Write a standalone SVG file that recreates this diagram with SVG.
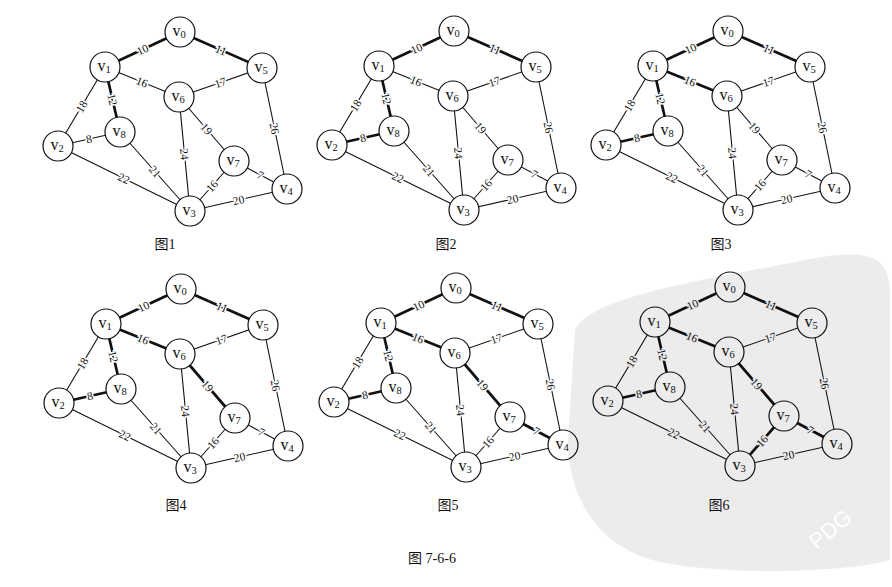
<svg xmlns="http://www.w3.org/2000/svg" width="892" height="587" viewBox="0 0 892 587">
<style>
.e{stroke:#111;stroke-width:1.1;fill:none}
.b{stroke-width:2.7}
.n circle{fill:#fff;stroke:#111;stroke-width:1.2}
.nl{font-family:"Liberation Serif",serif;font-size:16px;text-anchor:middle;fill:#111}
.sub{font-size:10.5px}
.w{font-family:"Liberation Serif",serif;font-size:11.5px;text-anchor:middle;dominant-baseline:central;paint-order:stroke;stroke:#fff;stroke-width:3;fill:#111}
.cap{font-family:"Liberation Serif","Noto Sans CJK SC",serif;font-size:14px;text-anchor:middle;fill:#111}
</style>
<rect width="892" height="587" fill="#fff"/>

<!-- Figure 1 -->
<g id="fig1" transform="translate(0,1)">
<g id="fig1-connectors">
<line class="e b" x1="180" y1="31" x2="105" y2="66"/>
<line class="e b" x1="180" y1="31" x2="262" y2="67"/>
<line class="e" x1="105" y1="66" x2="179" y2="96"/>
<line class="e" x1="262" y1="67" x2="179" y2="96"/>
<line class="e" x1="105" y1="66" x2="58" y2="145"/>
<line class="e b" x1="105" y1="66" x2="120" y2="131"/>
<line class="e" x1="58" y1="145" x2="120" y2="131"/>
<line class="e" x1="58" y1="145" x2="190" y2="210"/>
<line class="e" x1="120" y1="131" x2="190" y2="210"/>
<line class="e" x1="179" y1="96" x2="190" y2="210"/>
<line class="e" x1="179" y1="96" x2="234" y2="160"/>
<line class="e" x1="262" y1="67" x2="287" y2="188"/>
<line class="e" x1="234" y1="160" x2="287" y2="188"/>
<line class="e" x1="234" y1="160" x2="190" y2="210"/>
<line class="e" x1="190" y1="210" x2="287" y2="188"/>
<text class="w" transform="translate(142.5,48.5) rotate(-25)">10</text>
<text class="w" transform="translate(221,49) rotate(23.7)">11</text>
<text class="w" transform="translate(142,81) rotate(22)">16</text>
<text class="w" transform="translate(220.5,81.5) rotate(-19)">17</text>
<text class="w" transform="translate(81.5,105.5) rotate(-59)">18</text>
<text class="w" transform="translate(112.5,98.5) rotate(77)">12</text>
<text class="w" transform="translate(89,138) rotate(-12.7)">8</text>
<text class="w" transform="translate(124,177.5) rotate(26)">22</text>
<text class="w" transform="translate(155,170.5) rotate(48.5)">21</text>
<text class="w" transform="translate(184.5,153) rotate(84.5)">24</text>
<text class="w" transform="translate(206.5,128) rotate(49)">19</text>
<text class="w" transform="translate(274.5,127.5) rotate(78)">26</text>
<text class="w" transform="translate(260.5,174) rotate(28)">7</text>
<text class="w" transform="translate(212,185) rotate(-48.7)">16</text>
<text class="w" transform="translate(238.5,199) rotate(-12.8)">20</text>
</g>
<g id="fig1-v0" class="n"><circle cx="180" cy="31" r="15"/><text class="nl" x="179" y="35">v<tspan class="sub" dy="2">0</tspan></text></g>
<g id="fig1-v1" class="n"><circle cx="105" cy="66" r="15"/><text class="nl" x="104" y="70">v<tspan class="sub" dy="2">1</tspan></text></g>
<g id="fig1-v2" class="n"><circle cx="58" cy="145" r="15"/><text class="nl" x="57" y="149">v<tspan class="sub" dy="2">2</tspan></text></g>
<g id="fig1-v3" class="n"><circle cx="190" cy="210" r="15"/><text class="nl" x="189" y="214">v<tspan class="sub" dy="2">3</tspan></text></g>
<g id="fig1-v4" class="n"><circle cx="287" cy="188" r="15"/><text class="nl" x="286" y="192">v<tspan class="sub" dy="2">4</tspan></text></g>
<g id="fig1-v5" class="n"><circle cx="262" cy="67" r="15"/><text class="nl" x="261" y="71">v<tspan class="sub" dy="2">5</tspan></text></g>
<g id="fig1-v6" class="n"><circle cx="179" cy="96" r="15"/><text class="nl" x="178" y="100">v<tspan class="sub" dy="2">6</tspan></text></g>
<g id="fig1-v7" class="n"><circle cx="234" cy="160" r="15"/><text class="nl" x="233" y="164">v<tspan class="sub" dy="2">7</tspan></text></g>
<g id="fig1-v8" class="n"><circle cx="120" cy="131" r="15"/><text class="nl" x="119" y="135">v<tspan class="sub" dy="2">8</tspan></text></g>
</g>

<!-- Figure 2 -->
<g id="fig2" transform="translate(274,0)">
<g id="fig2-connectors">
<line class="e b" x1="180" y1="31" x2="105" y2="66"/>
<line class="e b" x1="180" y1="31" x2="262" y2="67"/>
<line class="e" x1="105" y1="66" x2="179" y2="96"/>
<line class="e" x1="262" y1="67" x2="179" y2="96"/>
<line class="e" x1="105" y1="66" x2="58" y2="145"/>
<line class="e b" x1="105" y1="66" x2="120" y2="131"/>
<line class="e b" x1="58" y1="145" x2="120" y2="131"/>
<line class="e" x1="58" y1="145" x2="190" y2="210"/>
<line class="e" x1="120" y1="131" x2="190" y2="210"/>
<line class="e" x1="179" y1="96" x2="190" y2="210"/>
<line class="e" x1="179" y1="96" x2="234" y2="160"/>
<line class="e" x1="262" y1="67" x2="287" y2="188"/>
<line class="e" x1="234" y1="160" x2="287" y2="188"/>
<line class="e" x1="234" y1="160" x2="190" y2="210"/>
<line class="e" x1="190" y1="210" x2="287" y2="188"/>
<text class="w" transform="translate(142.5,48.5) rotate(-25)">10</text>
<text class="w" transform="translate(221,49) rotate(23.7)">11</text>
<text class="w" transform="translate(142,81) rotate(22)">16</text>
<text class="w" transform="translate(220.5,81.5) rotate(-19)">17</text>
<text class="w" transform="translate(81.5,105.5) rotate(-59)">18</text>
<text class="w" transform="translate(112.5,98.5) rotate(77)">12</text>
<text class="w" transform="translate(89,138) rotate(-12.7)">8</text>
<text class="w" transform="translate(124,177.5) rotate(26)">22</text>
<text class="w" transform="translate(155,170.5) rotate(48.5)">21</text>
<text class="w" transform="translate(184.5,153) rotate(84.5)">24</text>
<text class="w" transform="translate(206.5,128) rotate(49)">19</text>
<text class="w" transform="translate(274.5,127.5) rotate(78)">26</text>
<text class="w" transform="translate(260.5,174) rotate(28)">7</text>
<text class="w" transform="translate(212,185) rotate(-48.7)">16</text>
<text class="w" transform="translate(238.5,199) rotate(-12.8)">20</text>
</g>
<g id="fig2-v0" class="n"><circle cx="180" cy="31" r="15"/><text class="nl" x="179" y="35">v<tspan class="sub" dy="2">0</tspan></text></g>
<g id="fig2-v1" class="n"><circle cx="105" cy="66" r="15"/><text class="nl" x="104" y="70">v<tspan class="sub" dy="2">1</tspan></text></g>
<g id="fig2-v2" class="n"><circle cx="58" cy="145" r="15"/><text class="nl" x="57" y="149">v<tspan class="sub" dy="2">2</tspan></text></g>
<g id="fig2-v3" class="n"><circle cx="190" cy="210" r="15"/><text class="nl" x="189" y="214">v<tspan class="sub" dy="2">3</tspan></text></g>
<g id="fig2-v4" class="n"><circle cx="287" cy="188" r="15"/><text class="nl" x="286" y="192">v<tspan class="sub" dy="2">4</tspan></text></g>
<g id="fig2-v5" class="n"><circle cx="262" cy="67" r="15"/><text class="nl" x="261" y="71">v<tspan class="sub" dy="2">5</tspan></text></g>
<g id="fig2-v6" class="n"><circle cx="179" cy="96" r="15"/><text class="nl" x="178" y="100">v<tspan class="sub" dy="2">6</tspan></text></g>
<g id="fig2-v7" class="n"><circle cx="234" cy="160" r="15"/><text class="nl" x="233" y="164">v<tspan class="sub" dy="2">7</tspan></text></g>
<g id="fig2-v8" class="n"><circle cx="120" cy="131" r="15"/><text class="nl" x="119" y="135">v<tspan class="sub" dy="2">8</tspan></text></g>
</g>

<!-- Figure 3 -->
<g id="fig3" transform="translate(548,0)">
<g id="fig3-connectors">
<line class="e b" x1="180" y1="31" x2="105" y2="66"/>
<line class="e b" x1="180" y1="31" x2="262" y2="67"/>
<line class="e b" x1="105" y1="66" x2="179" y2="96"/>
<line class="e" x1="262" y1="67" x2="179" y2="96"/>
<line class="e" x1="105" y1="66" x2="58" y2="145"/>
<line class="e b" x1="105" y1="66" x2="120" y2="131"/>
<line class="e b" x1="58" y1="145" x2="120" y2="131"/>
<line class="e" x1="58" y1="145" x2="190" y2="210"/>
<line class="e" x1="120" y1="131" x2="190" y2="210"/>
<line class="e" x1="179" y1="96" x2="190" y2="210"/>
<line class="e" x1="179" y1="96" x2="234" y2="160"/>
<line class="e" x1="262" y1="67" x2="287" y2="188"/>
<line class="e" x1="234" y1="160" x2="287" y2="188"/>
<line class="e" x1="234" y1="160" x2="190" y2="210"/>
<line class="e" x1="190" y1="210" x2="287" y2="188"/>
<text class="w" transform="translate(142.5,48.5) rotate(-25)">10</text>
<text class="w" transform="translate(221,49) rotate(23.7)">11</text>
<text class="w" transform="translate(142,81) rotate(22)">16</text>
<text class="w" transform="translate(220.5,81.5) rotate(-19)">17</text>
<text class="w" transform="translate(81.5,105.5) rotate(-59)">18</text>
<text class="w" transform="translate(112.5,98.5) rotate(77)">12</text>
<text class="w" transform="translate(89,138) rotate(-12.7)">8</text>
<text class="w" transform="translate(124,177.5) rotate(26)">22</text>
<text class="w" transform="translate(155,170.5) rotate(48.5)">21</text>
<text class="w" transform="translate(184.5,153) rotate(84.5)">24</text>
<text class="w" transform="translate(206.5,128) rotate(49)">19</text>
<text class="w" transform="translate(274.5,127.5) rotate(78)">26</text>
<text class="w" transform="translate(260.5,174) rotate(28)">7</text>
<text class="w" transform="translate(212,185) rotate(-48.7)">16</text>
<text class="w" transform="translate(238.5,199) rotate(-12.8)">20</text>
</g>
<g id="fig3-v0" class="n"><circle cx="180" cy="31" r="15"/><text class="nl" x="179" y="35">v<tspan class="sub" dy="2">0</tspan></text></g>
<g id="fig3-v1" class="n"><circle cx="105" cy="66" r="15"/><text class="nl" x="104" y="70">v<tspan class="sub" dy="2">1</tspan></text></g>
<g id="fig3-v2" class="n"><circle cx="58" cy="145" r="15"/><text class="nl" x="57" y="149">v<tspan class="sub" dy="2">2</tspan></text></g>
<g id="fig3-v3" class="n"><circle cx="190" cy="210" r="15"/><text class="nl" x="189" y="214">v<tspan class="sub" dy="2">3</tspan></text></g>
<g id="fig3-v4" class="n"><circle cx="287" cy="188" r="15"/><text class="nl" x="286" y="192">v<tspan class="sub" dy="2">4</tspan></text></g>
<g id="fig3-v5" class="n"><circle cx="262" cy="67" r="15"/><text class="nl" x="261" y="71">v<tspan class="sub" dy="2">5</tspan></text></g>
<g id="fig3-v6" class="n"><circle cx="179" cy="96" r="15"/><text class="nl" x="178" y="100">v<tspan class="sub" dy="2">6</tspan></text></g>
<g id="fig3-v7" class="n"><circle cx="234" cy="160" r="15"/><text class="nl" x="233" y="164">v<tspan class="sub" dy="2">7</tspan></text></g>
<g id="fig3-v8" class="n"><circle cx="120" cy="131" r="15"/><text class="nl" x="119" y="135">v<tspan class="sub" dy="2">8</tspan></text></g>
</g>

<!-- Figure 4 -->
<g id="fig4" transform="translate(1,258)">
<g id="fig4-connectors">
<line class="e b" x1="180" y1="31" x2="105" y2="66"/>
<line class="e b" x1="180" y1="31" x2="262" y2="67"/>
<line class="e b" x1="105" y1="66" x2="179" y2="96"/>
<line class="e" x1="262" y1="67" x2="179" y2="96"/>
<line class="e" x1="105" y1="66" x2="58" y2="145"/>
<line class="e b" x1="105" y1="66" x2="120" y2="131"/>
<line class="e b" x1="58" y1="145" x2="120" y2="131"/>
<line class="e" x1="58" y1="145" x2="190" y2="210"/>
<line class="e" x1="120" y1="131" x2="190" y2="210"/>
<line class="e" x1="179" y1="96" x2="190" y2="210"/>
<line class="e b" x1="179" y1="96" x2="234" y2="160"/>
<line class="e" x1="262" y1="67" x2="287" y2="188"/>
<line class="e" x1="234" y1="160" x2="287" y2="188"/>
<line class="e" x1="234" y1="160" x2="190" y2="210"/>
<line class="e" x1="190" y1="210" x2="287" y2="188"/>
<text class="w" transform="translate(142.5,48.5) rotate(-25)">10</text>
<text class="w" transform="translate(221,49) rotate(23.7)">11</text>
<text class="w" transform="translate(142,81) rotate(22)">16</text>
<text class="w" transform="translate(220.5,81.5) rotate(-19)">17</text>
<text class="w" transform="translate(81.5,105.5) rotate(-59)">18</text>
<text class="w" transform="translate(112.5,98.5) rotate(77)">12</text>
<text class="w" transform="translate(89,138) rotate(-12.7)">8</text>
<text class="w" transform="translate(124,177.5) rotate(26)">22</text>
<text class="w" transform="translate(155,170.5) rotate(48.5)">21</text>
<text class="w" transform="translate(184.5,153) rotate(84.5)">24</text>
<text class="w" transform="translate(206.5,128) rotate(49)">19</text>
<text class="w" transform="translate(274.5,127.5) rotate(78)">26</text>
<text class="w" transform="translate(260.5,174) rotate(28)">7</text>
<text class="w" transform="translate(212,185) rotate(-48.7)">16</text>
<text class="w" transform="translate(238.5,199) rotate(-12.8)">20</text>
</g>
<g id="fig4-v0" class="n"><circle cx="180" cy="31" r="15"/><text class="nl" x="179" y="35">v<tspan class="sub" dy="2">0</tspan></text></g>
<g id="fig4-v1" class="n"><circle cx="105" cy="66" r="15"/><text class="nl" x="104" y="70">v<tspan class="sub" dy="2">1</tspan></text></g>
<g id="fig4-v2" class="n"><circle cx="58" cy="145" r="15"/><text class="nl" x="57" y="149">v<tspan class="sub" dy="2">2</tspan></text></g>
<g id="fig4-v3" class="n"><circle cx="190" cy="210" r="15"/><text class="nl" x="189" y="214">v<tspan class="sub" dy="2">3</tspan></text></g>
<g id="fig4-v4" class="n"><circle cx="287" cy="188" r="15"/><text class="nl" x="286" y="192">v<tspan class="sub" dy="2">4</tspan></text></g>
<g id="fig4-v5" class="n"><circle cx="262" cy="67" r="15"/><text class="nl" x="261" y="71">v<tspan class="sub" dy="2">5</tspan></text></g>
<g id="fig4-v6" class="n"><circle cx="179" cy="96" r="15"/><text class="nl" x="178" y="100">v<tspan class="sub" dy="2">6</tspan></text></g>
<g id="fig4-v7" class="n"><circle cx="234" cy="160" r="15"/><text class="nl" x="233" y="164">v<tspan class="sub" dy="2">7</tspan></text></g>
<g id="fig4-v8" class="n"><circle cx="120" cy="131" r="15"/><text class="nl" x="119" y="135">v<tspan class="sub" dy="2">8</tspan></text></g>
</g>

<!-- Figure 5 -->
<g id="fig5" transform="translate(276,257)">
<g id="fig5-connectors">
<line class="e b" x1="180" y1="31" x2="105" y2="66"/>
<line class="e b" x1="180" y1="31" x2="262" y2="67"/>
<line class="e b" x1="105" y1="66" x2="179" y2="96"/>
<line class="e" x1="262" y1="67" x2="179" y2="96"/>
<line class="e" x1="105" y1="66" x2="58" y2="145"/>
<line class="e b" x1="105" y1="66" x2="120" y2="131"/>
<line class="e b" x1="58" y1="145" x2="120" y2="131"/>
<line class="e" x1="58" y1="145" x2="190" y2="210"/>
<line class="e" x1="120" y1="131" x2="190" y2="210"/>
<line class="e" x1="179" y1="96" x2="190" y2="210"/>
<line class="e b" x1="179" y1="96" x2="234" y2="160"/>
<line class="e" x1="262" y1="67" x2="287" y2="188"/>
<line class="e b" x1="234" y1="160" x2="287" y2="188"/>
<line class="e" x1="234" y1="160" x2="190" y2="210"/>
<line class="e" x1="190" y1="210" x2="287" y2="188"/>
<text class="w" transform="translate(142.5,48.5) rotate(-25)">10</text>
<text class="w" transform="translate(221,49) rotate(23.7)">11</text>
<text class="w" transform="translate(142,81) rotate(22)">16</text>
<text class="w" transform="translate(220.5,81.5) rotate(-19)">17</text>
<text class="w" transform="translate(81.5,105.5) rotate(-59)">18</text>
<text class="w" transform="translate(112.5,98.5) rotate(77)">12</text>
<text class="w" transform="translate(89,138) rotate(-12.7)">8</text>
<text class="w" transform="translate(124,177.5) rotate(26)">22</text>
<text class="w" transform="translate(155,170.5) rotate(48.5)">21</text>
<text class="w" transform="translate(184.5,153) rotate(84.5)">24</text>
<text class="w" transform="translate(206.5,128) rotate(49)">19</text>
<text class="w" transform="translate(274.5,127.5) rotate(78)">26</text>
<text class="w" transform="translate(260.5,174) rotate(28)">7</text>
<text class="w" transform="translate(212,185) rotate(-48.7)">16</text>
<text class="w" transform="translate(238.5,199) rotate(-12.8)">20</text>
</g>
<g id="fig5-v0" class="n"><circle cx="180" cy="31" r="15"/><text class="nl" x="179" y="35">v<tspan class="sub" dy="2">0</tspan></text></g>
<g id="fig5-v1" class="n"><circle cx="105" cy="66" r="15"/><text class="nl" x="104" y="70">v<tspan class="sub" dy="2">1</tspan></text></g>
<g id="fig5-v2" class="n"><circle cx="58" cy="145" r="15"/><text class="nl" x="57" y="149">v<tspan class="sub" dy="2">2</tspan></text></g>
<g id="fig5-v3" class="n"><circle cx="190" cy="210" r="15"/><text class="nl" x="189" y="214">v<tspan class="sub" dy="2">3</tspan></text></g>
<g id="fig5-v4" class="n"><circle cx="287" cy="188" r="15"/><text class="nl" x="286" y="192">v<tspan class="sub" dy="2">4</tspan></text></g>
<g id="fig5-v5" class="n"><circle cx="262" cy="67" r="15"/><text class="nl" x="261" y="71">v<tspan class="sub" dy="2">5</tspan></text></g>
<g id="fig5-v6" class="n"><circle cx="179" cy="96" r="15"/><text class="nl" x="178" y="100">v<tspan class="sub" dy="2">6</tspan></text></g>
<g id="fig5-v7" class="n"><circle cx="234" cy="160" r="15"/><text class="nl" x="233" y="164">v<tspan class="sub" dy="2">7</tspan></text></g>
<g id="fig5-v8" class="n"><circle cx="120" cy="131" r="15"/><text class="nl" x="119" y="135">v<tspan class="sub" dy="2">8</tspan></text></g>
</g>

<!-- Figure 6 -->
<g id="fig6" transform="translate(550,256)">
<g id="fig6-connectors">
<line class="e b" x1="180" y1="31" x2="105" y2="66"/>
<line class="e b" x1="180" y1="31" x2="262" y2="67"/>
<line class="e b" x1="105" y1="66" x2="179" y2="96"/>
<line class="e" x1="262" y1="67" x2="179" y2="96"/>
<line class="e" x1="105" y1="66" x2="58" y2="145"/>
<line class="e b" x1="105" y1="66" x2="120" y2="131"/>
<line class="e b" x1="58" y1="145" x2="120" y2="131"/>
<line class="e" x1="58" y1="145" x2="190" y2="210"/>
<line class="e" x1="120" y1="131" x2="190" y2="210"/>
<line class="e" x1="179" y1="96" x2="190" y2="210"/>
<line class="e b" x1="179" y1="96" x2="234" y2="160"/>
<line class="e" x1="262" y1="67" x2="287" y2="188"/>
<line class="e b" x1="234" y1="160" x2="287" y2="188"/>
<line class="e b" x1="234" y1="160" x2="190" y2="210"/>
<line class="e" x1="190" y1="210" x2="287" y2="188"/>
<text class="w" transform="translate(142.5,48.5) rotate(-25)">10</text>
<text class="w" transform="translate(221,49) rotate(23.7)">11</text>
<text class="w" transform="translate(142,81) rotate(22)">16</text>
<text class="w" transform="translate(220.5,81.5) rotate(-19)">17</text>
<text class="w" transform="translate(81.5,105.5) rotate(-59)">18</text>
<text class="w" transform="translate(112.5,98.5) rotate(77)">12</text>
<text class="w" transform="translate(89,138) rotate(-12.7)">8</text>
<text class="w" transform="translate(124,177.5) rotate(26)">22</text>
<text class="w" transform="translate(155,170.5) rotate(48.5)">21</text>
<text class="w" transform="translate(184.5,153) rotate(84.5)">24</text>
<text class="w" transform="translate(206.5,128) rotate(49)">19</text>
<text class="w" transform="translate(274.5,127.5) rotate(78)">26</text>
<text class="w" transform="translate(260.5,174) rotate(28)">7</text>
<text class="w" transform="translate(212,185) rotate(-48.7)">16</text>
<text class="w" transform="translate(238.5,199) rotate(-12.8)">20</text>
</g>
<g id="fig6-v0" class="n"><circle cx="180" cy="31" r="15"/><text class="nl" x="179" y="35">v<tspan class="sub" dy="2">0</tspan></text></g>
<g id="fig6-v1" class="n"><circle cx="105" cy="66" r="15"/><text class="nl" x="104" y="70">v<tspan class="sub" dy="2">1</tspan></text></g>
<g id="fig6-v2" class="n"><circle cx="58" cy="145" r="15"/><text class="nl" x="57" y="149">v<tspan class="sub" dy="2">2</tspan></text></g>
<g id="fig6-v3" class="n"><circle cx="190" cy="210" r="15"/><text class="nl" x="189" y="214">v<tspan class="sub" dy="2">3</tspan></text></g>
<g id="fig6-v4" class="n"><circle cx="287" cy="188" r="15"/><text class="nl" x="286" y="192">v<tspan class="sub" dy="2">4</tspan></text></g>
<g id="fig6-v5" class="n"><circle cx="262" cy="67" r="15"/><text class="nl" x="261" y="71">v<tspan class="sub" dy="2">5</tspan></text></g>
<g id="fig6-v6" class="n"><circle cx="179" cy="96" r="15"/><text class="nl" x="178" y="100">v<tspan class="sub" dy="2">6</tspan></text></g>
<g id="fig6-v7" class="n"><circle cx="234" cy="160" r="15"/><text class="nl" x="233" y="164">v<tspan class="sub" dy="2">7</tspan></text></g>
<g id="fig6-v8" class="n"><circle cx="120" cy="131" r="15"/><text class="nl" x="119" y="135">v<tspan class="sub" dy="2">8</tspan></text></g>
</g>

<!-- watermark -->
<g id="watermark">
<path d="M575 330 C590 298 690 282 805 260 C862 249 890 252 890 292 L890 560 C850 572 735 576 665 563 C605 552 568 505 568 440 Z" fill="#000" fill-opacity="0.075"/>
<text x="835" y="535" transform="rotate(-40 835 535)" font-family="'Liberation Sans',sans-serif" font-size="22" fill="#fff" text-anchor="middle">PDG</text>
</g>

<!-- captions -->
<text class="cap" x="165" y="249">图1</text>
<text class="cap" x="446" y="249">图2</text>
<text class="cap" x="721" y="249">图3</text>
<text class="cap" x="176" y="510">图4</text>
<text class="cap" x="448" y="510">图5</text>
<text class="cap" x="719" y="510">图6</text>
<text class="cap" x="432" y="563" font-size="15">图 7-6-6</text>
</svg>
